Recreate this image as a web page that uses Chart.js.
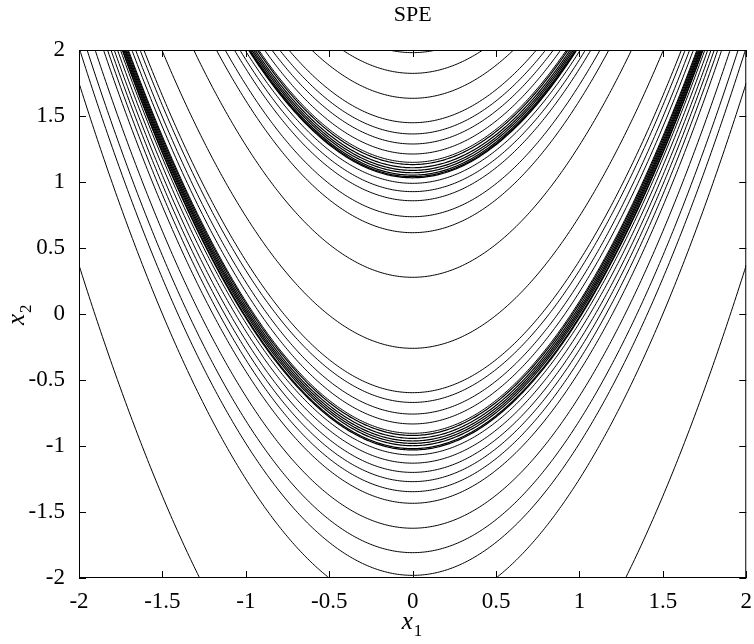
<!DOCTYPE html>
<html>
<head>
<meta charset="utf-8">
<title>SPE</title>
<script src="https://cdn.jsdelivr.net/npm/chart.js@4/dist/chart.umd.min.js"></script>
<style>
    html, body { margin: 0; padding: 0; background: #fff; }
    #wrap { width: 754px; height: 644px; position: relative; }
</style>
</head>
<body>
<div id="wrap"><canvas id="spe-chart"></canvas></div>
<script>
;(function () {
    'use strict';

    // contour levels, read as the height of each curve at x1 = 0
    // (every contour of SPE is a curve x2 = x1^2 + level)
    var upperLevels = [1.98, 1.823, 1.634, 1.449, 1.364, 1.288, 1.212, 1.149];
    var upperBand   = [1.132, 1.108, 1.088, 1.07, 1.052, 1.04, 1.032];
    var middleLevels = [0.99, 0.927, 0.858, 0.737, 0.616, 0.278,
                        -0.26, -0.596, -0.67, -0.758, -0.833, -0.904];
    var lowerBand   = [-0.92, -0.942, -0.962, -0.98, -0.998, -1.02, -1.03];
    var lowerLevels = [-1.068, -1.13, -1.20, -1.27, -1.346, -1.434, -1.623, -1.808, -1.98,
                       -2.25, -3.63];

    var xTicks = [-2, -1.5, -1, -0.5, 0, 0.5, 1, 1.5, 2];
    var yTicks = [-2, -1.5, -1, -0.5, 0, 0.5, 1, 1.5, 2];

    var serif = '"Liberation Serif", "Times New Roman", serif';

    var bandLevels = upperBand.concat(lowerBand);
    var levels = upperLevels.concat(upperBand, middleLevels, lowerBand, lowerLevels);

    var datasets = levels.map(function (c) {
        var pts = [];
        for (var i = 0; i <= 400; i++) {
            var x = -2 + i * 0.01;
            pts.push({ x: x, y: x * x + c });
        }
        return {
            data: pts,
            showLine: true,
            borderColor: '#000',
            borderWidth: bandLevels.indexOf(c) >= 0 ? 1.2 : 1,
            pointRadius: 0,
            pointHoverRadius: 0,
            fill: false,
            tension: 0
        };
    });

    var framePlugin = {
        id: 'frame',
        afterDatasetsDraw: function (chart) {
            var ctx = chart.ctx, a = chart.chartArea;
            var xs = chart.scales.x, ys = chart.scales.y;
            ctx.save();
            ctx.strokeStyle = '#000';
            ctx.lineWidth = 1;
            ctx.strokeRect(a.left + 0.5, a.top + 0.5, a.right - a.left - 1, a.bottom - a.top - 1);
            ctx.beginPath();
            xTicks.forEach(function (t) {
                var px = Math.round(xs.getPixelForValue(t)) + 0.5;
                ctx.moveTo(px, a.bottom); ctx.lineTo(px, a.bottom - 7);
                ctx.moveTo(px, a.top); ctx.lineTo(px, a.top + 7);
            });
            yTicks.forEach(function (t) {
                var py = Math.round(ys.getPixelForValue(t)) + 0.5;
                ctx.moveTo(a.left, py); ctx.lineTo(a.left + 7, py);
                ctx.moveTo(a.right, py); ctx.lineTo(a.right - 7, py);
            });
            ctx.stroke();

            // title and axis labels
            var cx = (a.left + a.right) / 2, cy = (a.top + a.bottom) / 2;
            ctx.fillStyle = '#000';
            ctx.textAlign = 'center';
            ctx.textBaseline = 'alphabetic';
            ctx.font = '22px ' + serif;
            ctx.fillText('SPE', cx, 21);

            ctx.font = 'italic 25px ' + serif;
            ctx.textAlign = 'left';
            ctx.fillText('x', cx - 11, 629);
            ctx.font = '17px ' + serif;
            ctx.fillText('1', cx + 1, 636);

            ctx.translate(24, cy);
            ctx.rotate(-Math.PI / 2);
            ctx.font = 'italic 25px ' + serif;
            ctx.fillText('x', -11, 0);
            ctx.font = '17px ' + serif;
            ctx.fillText('2', 1, 7);
            ctx.restore();
        }
    };

    function fmt(v) {
        return String(Math.round(v * 10) / 10);
    }

    function draw() {
        new Chart(document.getElementById('spe-chart'), {
            type: 'scatter',
            data: { datasets: datasets },
            options: {
                responsive: true,
                maintainAspectRatio: false,
                animation: false,
                events: [],
                layout: { padding: { top: 50, right: 5, left: 0, bottom: 0 } },
                plugins: {
                    legend: { display: false },
                    tooltip: { enabled: false }
                },
                scales: {
                    x: {
                        type: 'linear',
                        min: -2,
                        max: 2,
                        afterFit: function (s) { s.height = 66; },
                        afterBuildTicks: function (s) {
                            s.ticks = xTicks.map(function (v) { return { value: v }; });
                        },
                        grid: { display: false },
                        border: { display: false },
                        ticks: {
                            color: '#000',
                            padding: 2,
                            maxRotation: 0,
                            font: { family: serif, size: 23 },
                            callback: fmt
                        }
                    },
                    y: {
                        type: 'linear',
                        min: -2,
                        max: 2,
                        afterFit: function (s) { s.width = 79; },
                        afterBuildTicks: function (s) {
                            s.ticks = yTicks.map(function (v) { return { value: v }; });
                        },
                        grid: { display: false },
                        border: { display: false },
                        ticks: {
                            color: '#000',
                            padding: 6,
                            font: { family: serif, size: 23 },
                            callback: fmt
                        }
                    }
                }
            },
            plugins: [framePlugin]
        });
    }

    if (document.fonts && document.fonts.load) {
        Promise.all([
            document.fonts.load('23px "Liberation Serif"'),
            document.fonts.load('italic 25px "Liberation Serif"')
        ]).then(draw, draw);
    } else {
        draw();
    }
})();
</script>
</body>
</html>
